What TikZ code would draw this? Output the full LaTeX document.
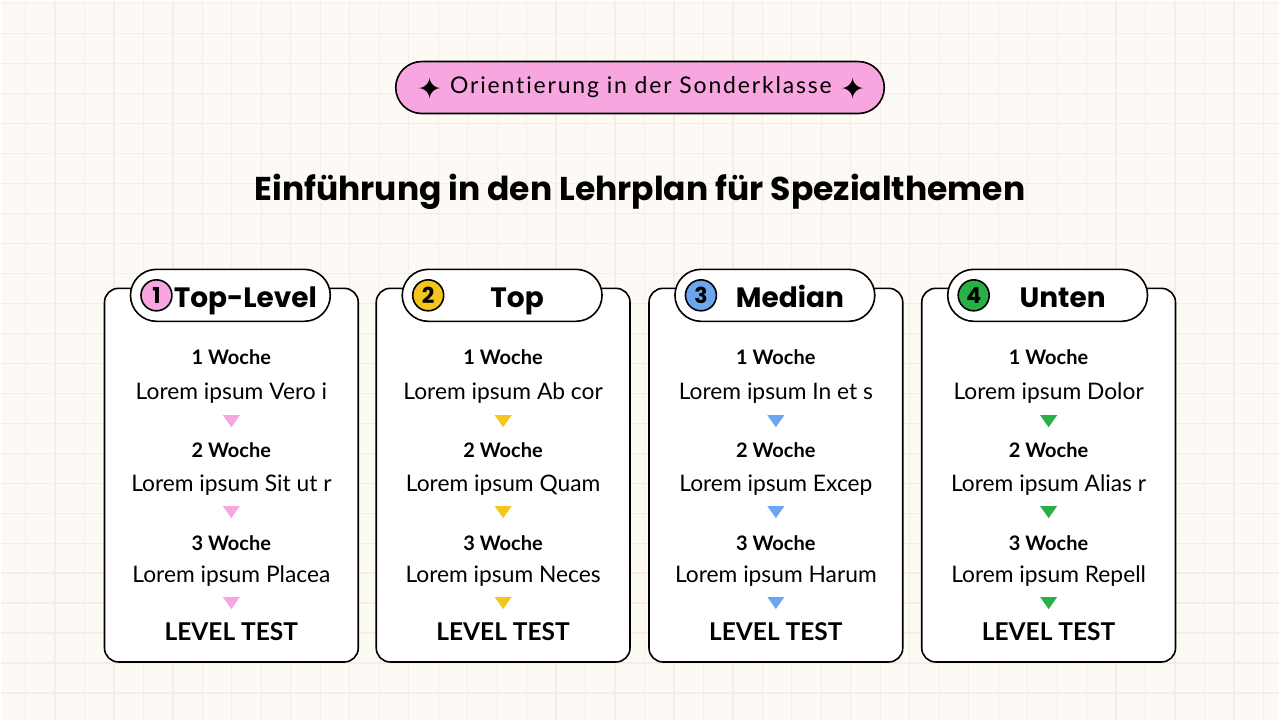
\documentclass[tikz,border=0pt]{standalone}
\usepackage{fontspec}
\setmainfont{Lato}
\newfontfamily\headfont{Poppins}
\newfontfamily\pillfont[LetterSpace=8,Ligatures=NoCommon]{Lato}
\newfontfamily\symfont{DejaVu Sans}
\usetikzlibrary{calc,positioning}

\definecolor{paper}{HTML}{FDF9F5}
\definecolor{gridline}{HTML}{F5EEE8}
\definecolor{pinkish}{HTML}{F8A6E0}
\definecolor{yellowish}{HTML}{F5C51C}
\definecolor{bluish}{HTML}{6BA6EE}
\definecolor{greenish}{HTML}{27B045}

\tikzset{
  card/.style={draw=black,line width=1.6pt,fill=white,rounded corners=14pt,
               minimum width=254pt,minimum height=374pt},
  headpill/.style={draw=black,line width=1.6pt,fill=white,rounded corners=26pt,
               minimum width=200pt,minimum height=52pt},
  numdot/.style={circle,draw=black,line width=1.6pt,minimum size=31pt,inner sep=0pt,
               font=\headfont\bfseries\fontsize{22}{22}\selectfont},
  headtext/.style={anchor=base,font=\headfont\bfseries\fontsize{28}{28}\selectfont},
  week/.style={anchor=base,font=\bfseries\fontsize{20}{20}\selectfont},
  lorem/.style={anchor=base,font=\fontsize{22.8}{22.8}\selectfont},
  leveltest/.style={anchor=base,font=\bfseries\fontsize{24.5}{24.5}\selectfont},
  star/.style={font=\symfont\fontsize{30}{30}\selectfont},
}

\begin{document}
\begin{tikzpicture}[x=1pt,y=-1pt]
%
  \fill[paper] (0,0) rectangle (1280,720);
  \foreach \gx in {25,54.5,...,1280} \draw[gridline,line width=1.2pt] (\gx,0) -- (\gx,720);
  \foreach \gy in {3,33,...,720} \draw[gridline,line width=1.2pt] (0,\gy) -- (1280,\gy);
  \useasboundingbox (0,0) rectangle (1280,720);
%
  \node[draw=black,line width=1.6pt,fill=pinkish,rounded corners=26pt,
        minimum width=489pt,minimum height=52pt] (badge) at (640,87) {};
  \node[font=\pillfont\fontsize{23}{23}\selectfont] (badgetext) at (641,87)
        {Orientierung in der Sonderklasse};
  \node[star] (starl) at (430,88) {✦};
  \node[star] (starr) at (853,88) {✦};
  \node[font=\headfont\bfseries\fontsize{33}{33}\selectfont] (title) at (640,191)
        {Einführung in den Lehrplan für Spezialthemen};
%
  \foreach \i/\x/\col/\head/\la/\lb/\lc in {
      1/231/pinkish/Top-Level/Vero i/Sit ut r/Placea,
      2/503/yellowish/Top/Ab cor/Quam/Neces,
      3/776/bluish/Median/In et s/Excep/Harum,
      4/1049/greenish/Unten/Dolor/Alias r/Repell} {
    \node[card] (card\i) at (\x,475) {};
    \node[headpill] (pill\i) at (\x-1,295) {};
    \node[numdot,fill=\col] (num\i) at (\x-75,295) {\i};
    \node[headtext] (head\i) at (\x+14,307) {\head};
%
    \node[week]  (wka\i) at (\x,364) {1 Woche};
    \node[lorem] (loa\i) at (\x,399) {Lorem ipsum \la};
    \node[week]  (wkb\i) at (\x,457) {2 Woche};
    \node[lorem] (lob\i) at (\x,491) {Lorem ipsum \lb};
    \node[week]  (wkc\i) at (\x,550) {3 Woche};
    \node[lorem] (loc\i) at (\x,582) {Lorem ipsum \lc};
    \node[leveltest] (test\i) at (\x,640) {LEVEL TEST};
%
    \foreach \ty in {421,512,603}
      \fill[\col] (\x-8.5,\ty-6) -- (\x+8.5,\ty-6) -- (\x,\ty+6) -- cycle;
  }
\end{tikzpicture}
\end{document}
